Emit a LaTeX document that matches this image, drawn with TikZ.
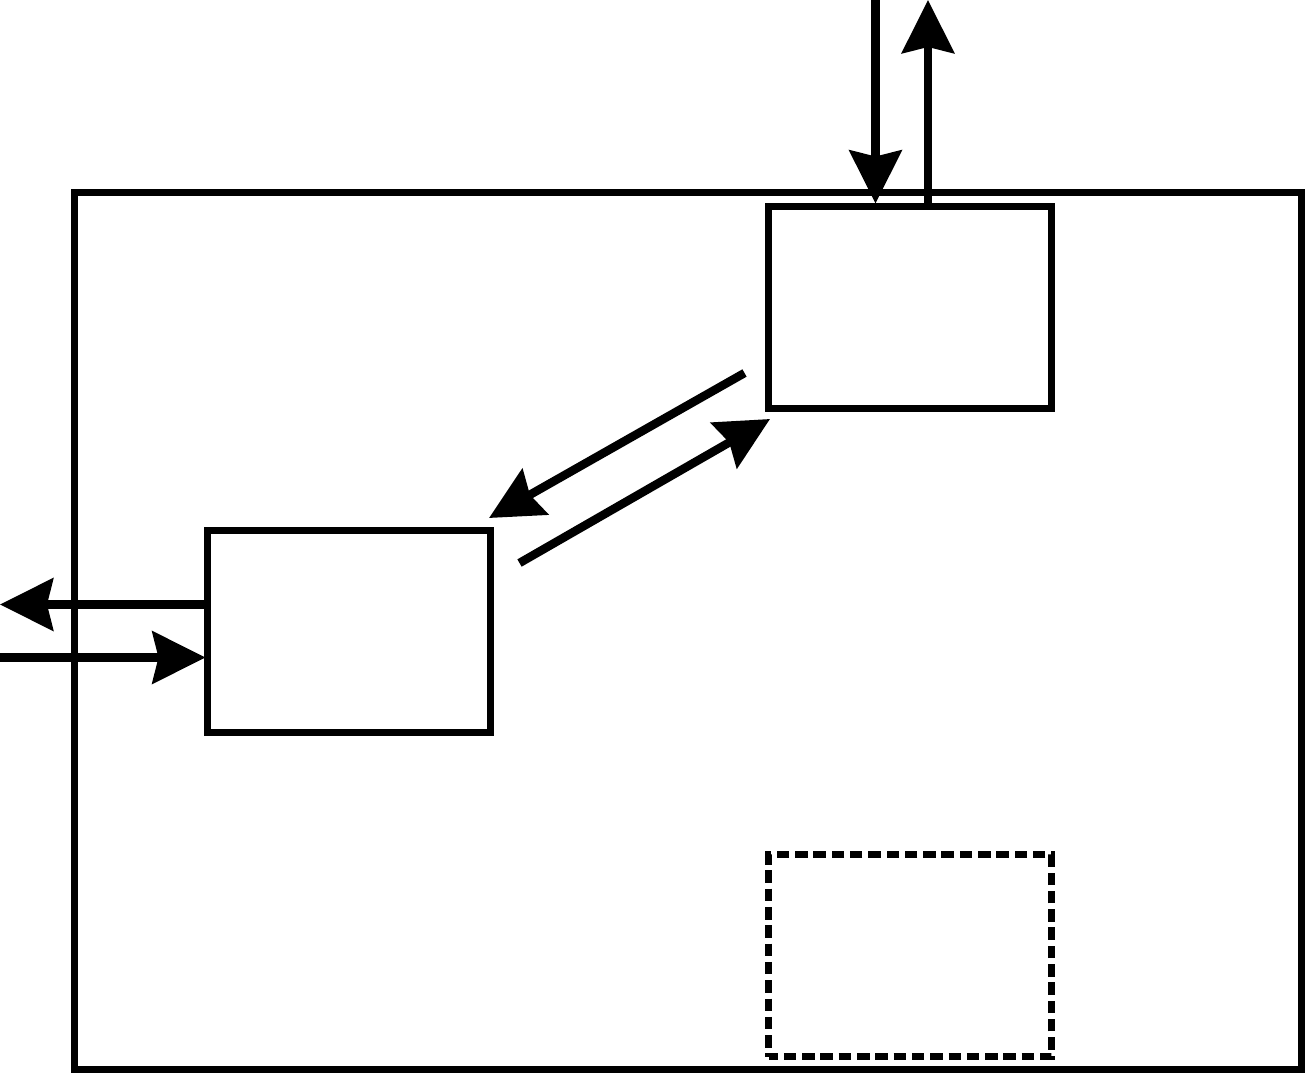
\documentclass[tikz,border=0pt]{standalone}
\usetikzlibrary{arrows.meta,calc}
\begin{document}
\begin{tikzpicture}[x=1pt,y=-1pt,
  boxstyle/.style={draw=black,line width=7pt,minimum width=283pt,minimum height=202pt,inner sep=0pt,outer sep=0pt},
  dashbox/.style={boxstyle,dash pattern=on 12.5pt off 5.8pt,dash phase=3pt},
  flow/.style={draw=black,line width=8.5pt,-{Stealth[length=53pt,width=52pt,inset=6pt]}}
]
\useasboundingbox (0,0) rectangle (1305,1073);
\node[draw=black,line width=7pt,minimum width=1227pt,minimum height=877pt,inner sep=0pt,outer sep=0pt] (outer) at (688,631) {};
\node[boxstyle] (tr) at (910,307.5) {};
\node[boxstyle] (lb) at (349,631.5) {};
\node[dashbox] (db) at (910,955.5) {};
% top arrows
\coordinate (topin) at (875.5,0);
\coordinate (topout) at (928,0);
\draw[flow] (topin) -- ($(tr.north west)+(107,-3)$);
\draw[flow] ($(tr.north west)+(159.5,0)$) -- (topout);
% left arrows
\coordinate (leftout) at (0,604.5);
\coordinate (leftin) at (0,657.5);
\draw[flow] ($(lb.north west)+(0,74)$) -- (leftout);
\draw[flow] (leftin) -- ($(lb.north west)+(-2,127)$);
% diagonal arrows
\coordinate (d1s) at (744.5,373);
\coordinate (d2s) at (519.5,563);
\draw[flow] (d1s) -- ($(lb.north east)+(-1.5,-12.5)$);
\draw[flow] (d2s) -- ($(tr.south west)+(1.5,10.5)$);
\end{tikzpicture}
\end{document}
